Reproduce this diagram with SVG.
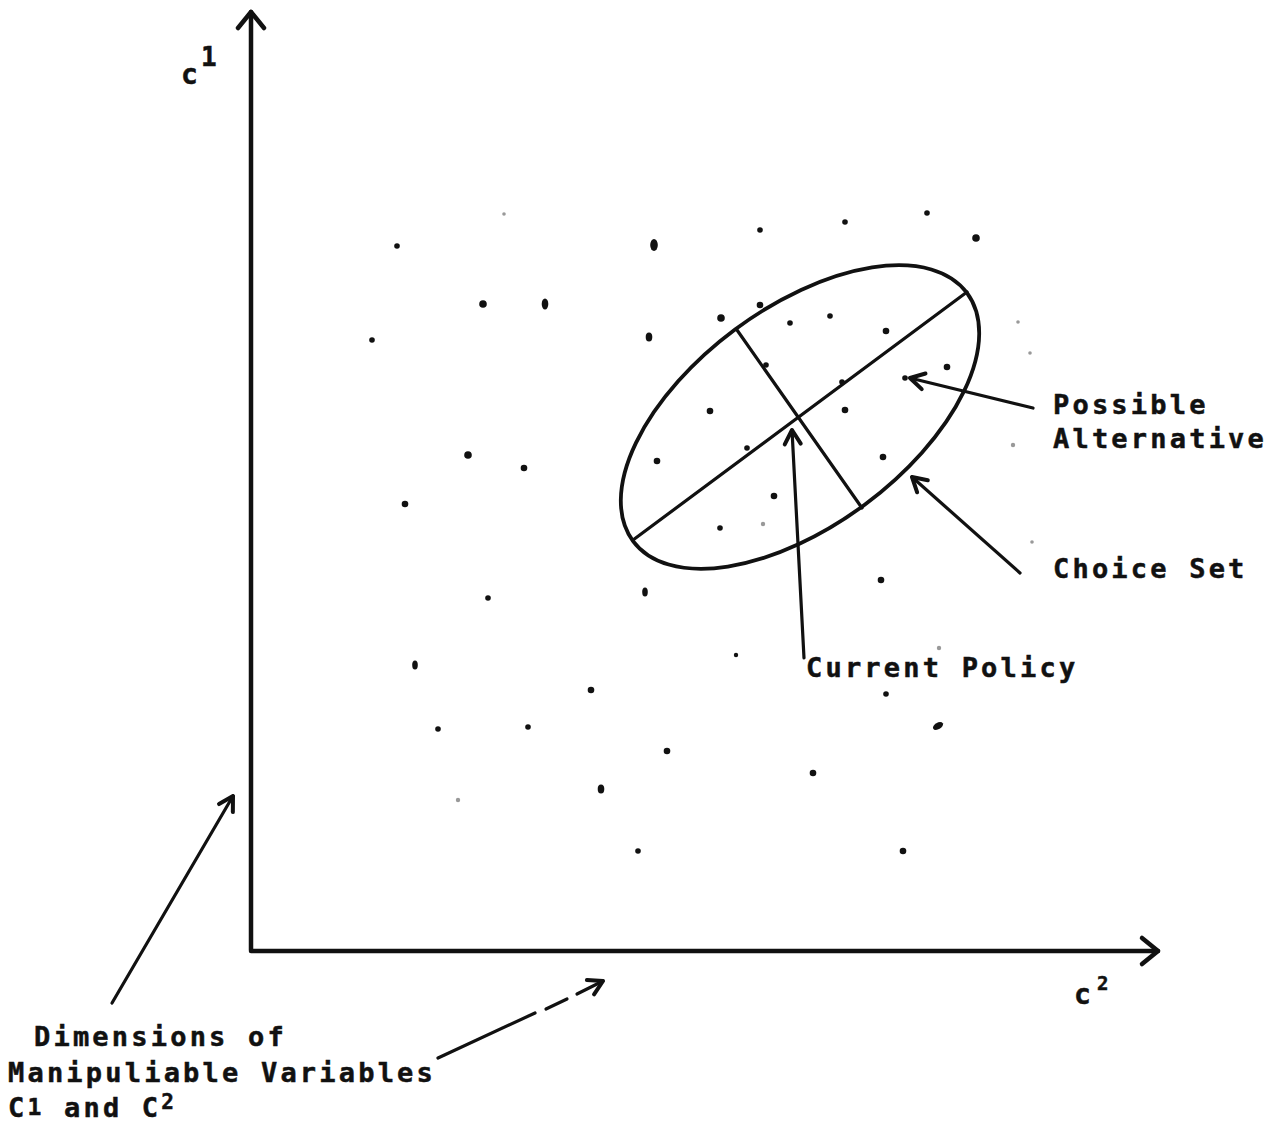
<svg xmlns="http://www.w3.org/2000/svg" width="1267" height="1126" viewBox="0 0 1267 1126">
<style>
.t{font-family:"DejaVu Sans Mono","Liberation Mono",monospace;font-weight:bold;font-size:27px;letter-spacing:3.2px;fill:#111;stroke:#111;stroke-width:0.5}
.s{letter-spacing:0}
.ax{stroke:#111;stroke-width:4.5;fill:none;stroke-linecap:round}
.ln{stroke:#111;stroke-width:3.2;fill:none;stroke-linecap:round}
.d{fill:#111}
.f{fill:#999}
</style>
<defs>
<marker id="big" markerUnits="userSpaceOnUse" orient="auto" markerWidth="40" markerHeight="40" refX="0" refY="0" viewBox="-20 -20 40 40" overflow="visible">
<path d="M-16,-13 L0,0 L-16,13" fill="none" stroke="#111" stroke-width="4.5" stroke-linecap="round" stroke-linejoin="round"/>
</marker>
<marker id="sm" markerUnits="userSpaceOnUse" orient="auto" markerWidth="40" markerHeight="40" refX="0" refY="0" viewBox="-20 -20 40 40" overflow="visible">
<path d="M-14,-8 L0,0 L-14,8" fill="none" stroke="#111" stroke-width="4" stroke-linecap="round" stroke-linejoin="round"/>
</marker>
</defs>
<rect width="1267" height="1126" fill="#fff"/>

<g id="axes">
<line class="ax" x1="251" y1="950" x2="251" y2="12" marker-end="url(#big)"/>
<line class="ax" x1="251" y1="951" x2="1158" y2="951" marker-end="url(#big)"/>
</g>

<g id="axis-label-c1">
<text class="t s" x="181" y="84" style="font-size:28px">c</text>
<text class="t s" x="201" y="66" style="font-size:26px">1</text>
</g>
<g id="axis-label-c2">
<text class="t s" x="1074" y="1004" style="font-size:28px">c</text>
<text class="t s" x="1097" y="990" style="font-size:19px">2</text>
</g>

<g id="choice-set">
<ellipse cx="800" cy="417" rx="208" ry="109" transform="rotate(-36.6 800 417)" fill="none" stroke="#111" stroke-width="3.8"/>
<line class="ln" x1="633" y1="540" x2="967" y2="292"/>
<line class="ln" x1="737" y1="330" x2="862" y2="508"/>
</g>

<g id="alternatives">
<circle class="f" cx="504" cy="214" r="1.8"/>
<circle class="d" cx="397" cy="246" r="2.8"/>
<ellipse class="d" cx="654" cy="245" rx="3.8" ry="6"/>
<circle class="d" cx="760" cy="230" r="2.8"/>
<circle class="d" cx="845" cy="222" r="2.8"/>
<circle class="d" cx="927" cy="213" r="2.8"/>
<circle class="d" cx="976" cy="238" r="3.8"/>
<circle class="d" cx="483" cy="304" r="3.8"/>
<ellipse class="d" cx="545" cy="304" rx="3.3" ry="5.5"/>
<circle class="d" cx="372" cy="340" r="2.8"/>
<ellipse class="d" cx="649" cy="337" rx="3.3" ry="4.5"/>
<circle class="d" cx="721" cy="318" r="3.8"/>
<circle class="d" cx="760" cy="305" r="3.3"/>
<circle class="d" cx="790" cy="323" r="2.8"/>
<circle class="d" cx="830" cy="316" r="2.8"/>
<circle class="d" cx="886" cy="331" r="3.3"/>
<circle class="f" cx="1018" cy="322" r="1.8"/>
<circle class="f" cx="1030" cy="353" r="1.8"/>
<circle class="d" cx="766" cy="365" r="2.8"/>
<circle class="d" cx="842" cy="382" r="2.8"/>
<circle class="d" cx="947" cy="367" r="3.3"/>
<circle class="d" cx="905" cy="378" r="2.8"/>
<circle class="d" cx="710" cy="411" r="3.3"/>
<circle class="d" cx="845" cy="410" r="3.3"/>
<circle class="d" cx="657" cy="461" r="3.3"/>
<circle class="d" cx="747" cy="448" r="2.8"/>
<circle class="d" cx="883" cy="457" r="3.3"/>
<circle class="d" cx="774" cy="496" r="3.3"/>
<circle class="d" cx="720" cy="528" r="2.8"/>
<circle class="f" cx="763" cy="524" r="2.2"/>
<circle class="d" cx="881" cy="580" r="3.3"/>
<circle class="f" cx="1013" cy="445" r="2.2"/>
<circle class="f" cx="1032" cy="542" r="1.8"/>
<circle class="d" cx="468" cy="455" r="3.8"/>
<circle class="d" cx="524" cy="468" r="3.3"/>
<circle class="d" cx="405" cy="504" r="3.3"/>
<circle class="d" cx="488" cy="598" r="2.8"/>
<ellipse class="d" cx="645" cy="592" rx="2.8" ry="4.5"/>
<ellipse class="d" cx="415" cy="665" rx="2.8" ry="4.5"/>
<circle class="d" cx="736" cy="655" r="2.2"/>
<circle class="f" cx="939" cy="648" r="2.2"/>
<circle class="d" cx="591" cy="690" r="3.3"/>
<circle class="d" cx="886" cy="694" r="2.8"/>
<circle class="d" cx="438" cy="729" r="2.8"/>
<circle class="d" cx="528" cy="727" r="2.8"/>
<ellipse class="d" cx="938" cy="726" rx="5.5" ry="3.3" transform="rotate(-30 938 726)"/>
<circle class="d" cx="667" cy="751" r="3.3"/>
<circle class="d" cx="813" cy="773" r="3.3"/>
<ellipse class="d" cx="601" cy="789" rx="3.3" ry="4.5"/>
<circle class="f" cx="458" cy="800" r="2.2"/>
<circle class="d" cx="638" cy="851" r="2.8"/>
<circle class="d" cx="903" cy="851" r="3.3"/>
</g>

<g id="label-possible-alternative">
<text class="t" x="1053" y="414">Possible</text>
<text class="t" x="1053" y="448">Alternative</text>
</g>
<g id="label-choice-set">
<text class="t" x="1053" y="578">Choice Set</text>
</g>
<g id="label-current-policy">
<text class="t" x="806" y="677">Current Policy</text>
</g>
<g id="label-dimensions">
<text class="t" x="34" y="1046">Dimensions of</text>
<text class="t" x="8" y="1082">Manipuliable Variables</text>
<text class="t" x="8" y="1117">C<tspan style="font-size:23px" dy="-2">1</tspan><tspan dy="2"> and C</tspan><tspan style="font-size:21px" dy="-8">2</tspan></text>
</g>

<g id="connectors">
<line class="ln" x1="1033" y1="408" x2="910" y2="378" marker-end="url(#sm)"/>
<line class="ln" x1="1020" y1="573" x2="912" y2="477" marker-end="url(#sm)"/>
<line class="ln" x1="804" y1="658" x2="792" y2="430" marker-end="url(#sm)"/>
<line class="ln" x1="112" y1="1003" x2="233" y2="796" marker-end="url(#sm)"/>
<line class="ln" x1="438" y1="1058" x2="535" y2="1013"/>
<line class="ln" x1="546" y1="1009" x2="567" y2="999"/>
<line class="ln" x1="577" y1="994" x2="603" y2="981" marker-end="url(#sm)"/>
</g>
</svg>
